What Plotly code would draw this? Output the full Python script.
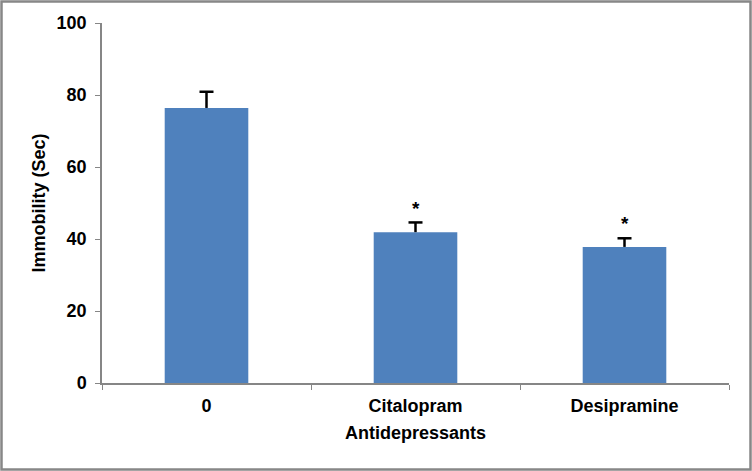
import plotly.graph_objects as go

categories = ["0", "Citalopram", "Desipramine"]
values = [76.4, 41.9, 37.8]
errors = [4.5, 2.7, 2.4]
star_labels = ["", "*", "*"]
star_y = [0, 48.5, 44.4]
y_ticks = [0, 20, 40, 60, 80, 100]

W, H = 752, 471
L, R, T, B = 102, 23, 23, 88
pw, ph = W - L - R, H - T - B

FAM = "Liberation Sans, Arial, sans-serif"
font = dict(family=FAM, size=18, color="black", weight="bold")

tops = [v + e for v, e in zip(values, errors)]

fig = go.Figure()
fig.add_trace(go.Bar(
    x=categories, y=values,
    marker=dict(color="#4F81BD", line=dict(width=0)),
    width=0.40,
))
fig.add_trace(go.Scatter(
    x=categories, y=tops, mode="markers",
    marker=dict(symbol="line-ew", size=10, color="black", line=dict(color="black", width=2.5)),
    error_y=dict(type="data", array=[0] * len(errors), arrayminus=errors, symmetric=False,
                 color="black", thickness=2.5, width=0),
    hoverinfo="skip",
))

for c, s, yv in zip(categories, star_labels, star_y):
    if s:
        fig.add_annotation(x=c, y=yv, text=s, showarrow=False,
                           font=dict(family=FAM, size=19, color="black", weight="bold"))

fig.add_shape(type="rect", xref="paper", yref="paper",
              x0=(1.5 - L) / pw, x1=(W - 1.5 - L) / pw,
              y0=(T + ph - (H - 1.5)) / ph, y1=(T + ph - 1.5) / ph,
              line=dict(color="#878787", width=2.5), fillcolor="rgba(0,0,0,0)", layer="above")

fig.update_layout(
    width=W, height=H,
    margin=dict(l=L, r=R, t=T, b=B),
    paper_bgcolor="white", plot_bgcolor="white",
    showlegend=False,
    font=font,
    bargap=0.6,
)
fig.update_xaxes(
    type="category", tickson="boundaries", ticks="outside", ticklen=5, tickcolor="#868686",
    showline=True, linecolor="#868686", linewidth=1.5,
    tickfont=font, ticklabelstandoff=6,
    title=dict(text="Antidepressants", font=font, standoff=11),
    showgrid=False, zeroline=False,
)
fig.update_yaxes(
    range=[0, 100], tickvals=y_ticks, ticks="outside", ticklen=5, tickcolor="#868686",
    showline=True, linecolor="#868686", linewidth=1.5,
    tickfont=font, ticklabelstandoff=5,
    title=dict(text="Immobility (Sec)", font=font, standoff=6),
    showgrid=False, zeroline=False,
)

fig.write_html("out.html", config={"displayModeBar": False},
               post_script="document.body.style.margin='0';document.body.style.overflow='hidden';")
